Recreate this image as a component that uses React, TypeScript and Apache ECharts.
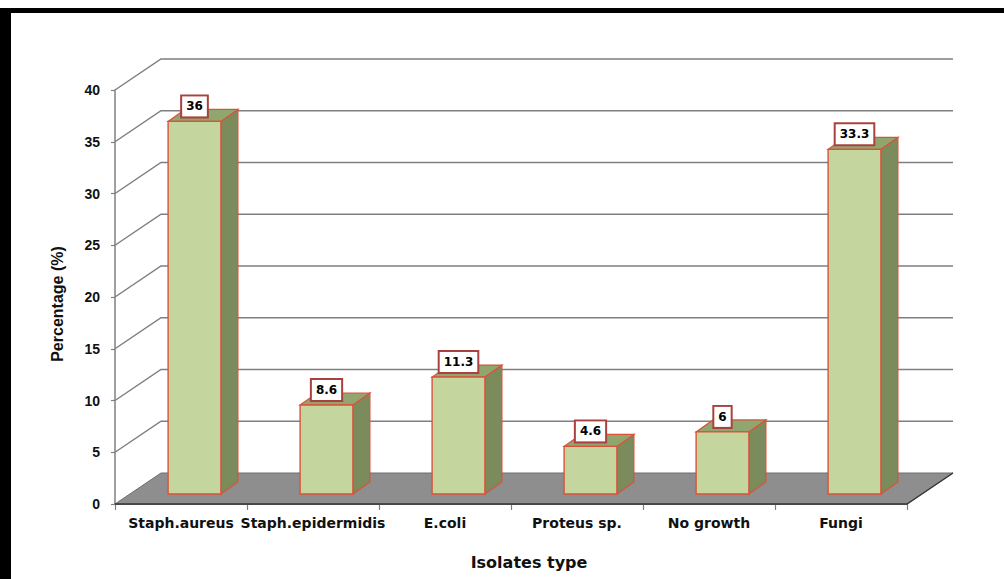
import React, { useEffect, useRef } from "react";
import * as echarts from "echarts";

const categories = ["Staph.aureus", "Staph.epidermidis", "E.coli", "Proteus sp.", "No growth", "Fungi"];
const percentages = [36, 8.6, 11.3, 4.6, 6, 33.3];
const gridTicks = [5, 10, 15, 20, 25, 30, 35, 40];
const yMin = 0;
const yMax = 40;
const yStep = 5;

// 3D look (pixels)
const WALL_DX = 46;
const WALL_DY = -31;
const BAR_OX = 13.5;
const BAR_OY = -10;
const BAR_DX = 17;
const BAR_DY = -12;
const BAR_W_FRAC = 0.4;

export default function App() {
  const ref = useRef<HTMLDivElement>(null);

  useEffect(() => {
    const chart = echarts.init(ref.current as HTMLDivElement, null, { renderer: "svg" });

    const option: any = {
      animation: false,
      backgroundColor: "#ffffff",
      grid: { left: 115, right: 97, top: 90, bottom: 75 },
      xAxis: {
        type: "category",
        data: categories,
        boundaryGap: true,
        axisLine: { show: true, lineStyle: { color: "#3a3a3a", width: 1.5 } },
        axisTick: { show: true, length: 6, lineStyle: { color: "#808080", width: 1.2 } },
        axisLabel: {
          interval: 0,
          margin: 12,
          color: "#111",
          fontFamily: "DejaVu Sans",
          fontWeight: "bold",
          fontSize: 14,
        },
        splitLine: { show: false },
        name: "Isolates type",
        nameLocation: "middle",
        nameGap: 50,
        nameTextStyle: {
          color: "#111",
          fontFamily: "DejaVu Sans",
          fontWeight: "bold",
          fontSize: 16,
          padding: [0, 0, 0, 36],
        },
      },
      yAxis: {
        type: "value",
        min: yMin,
        max: yMax,
        interval: yStep,
        axisLine: { show: true, lineStyle: { color: "#808080", width: 1.5 } },
        axisTick: { show: true, length: 4, lineStyle: { color: "#808080", width: 1.2 } },
        axisLabel: {
          margin: 15,
          color: "#111",
          fontFamily: "Liberation Sans",
          fontWeight: "bold",
          fontSize: 14,
        },
        splitLine: { show: false },
        name: "Percentage (%)",
        nameLocation: "middle",
        nameRotate: 90,
        nameGap: 50,
        nameTextStyle: {
          color: "#111",
          fontFamily: "Liberation Sans",
          fontWeight: "bold",
          fontSize: 16,
          padding: [0, 14, 0, 0],
        },
      },
      graphic: [
        { type: "rect", z: 100, shape: { x: 0, y: 8, width: 1004, height: 5 }, style: { fill: "#000" } },
        { type: "rect", z: 100, shape: { x: 0, y: 8, width: 11, height: 571 }, style: { fill: "#000" } },
      ],
      series: [
        {
          type: "custom",
          name: "walls",
          silent: true,
          z: 1,
          data: gridTicks.map((v) => [0, v]),
          renderItem: (params: any, api: any) => {
            const cs = params.coordSys;
            const y = api.coord([0, api.value(1)])[1];
            const x0 = cs.x;
            const x1 = cs.x + cs.width;
            return {
              type: "polyline",
              shape: {
                points: [
                  [x0, y],
                  [x0 + WALL_DX, y + WALL_DY],
                  [x1 + WALL_DX, y + WALL_DY],
                ],
              },
              style: { stroke: "#7f7f7f", lineWidth: 1.5, fill: null },
            };
          },
        },
        {
          type: "custom",
          name: "floor",
          silent: true,
          z: 2,
          data: [[0, yMin]],
          renderItem: (params: any, api: any) => {
            const cs = params.coordSys;
            const y = api.coord([0, api.value(1)])[1];
            const x0 = cs.x;
            const x1 = cs.x + cs.width;
            return {
              type: "group",
              children: [
                {
                  type: "polygon",
                  shape: {
                    points: [
                      [x0, y],
                      [x1, y],
                      [x1 + WALL_DX, y + WALL_DY],
                      [x0 + WALL_DX, y + WALL_DY],
                    ],
                  },
                  style: { fill: "#8e8e8e", stroke: "#6e6e6e", lineWidth: 1 },
                },
                {
                  type: "polyline",
                  shape: {
                    points: [
                      [x0, y],
                      [x1, y],
                      [x1 + WALL_DX, y + WALL_DY],
                    ],
                  },
                  style: { stroke: "#3a3a3a", lineWidth: 1.5, fill: null },
                },
              ],
            };
          },
        },
        {
          type: "custom",
          name: "Percentage",
          z: 3,
          data: percentages.map((v, i) => [i, v]),
          renderItem: (params: any, api: any) => {
            const i = api.value(0);
            const v = api.value(1);
            const base = api.coord([i, yMin]);
            const top = api.coord([i, v]);
            const cw = api.size([1, 0])[0];
            const w = cw * BAR_W_FRAC;
            const cx = base[0] + BAR_OX;
            const xl = cx - w / 2;
            const xr = cx + w / 2;
            const yb = base[1] + BAR_OY;
            const yt = top[1] + BAR_OY;
            const edge = "#d9533c";
            return {
              type: "group",
              children: [
                {
                  type: "polygon",
                  shape: {
                    points: [
                      [xr, yt],
                      [xr + BAR_DX, yt + BAR_DY],
                      [xr + BAR_DX, yb + BAR_DY],
                      [xr, yb],
                    ],
                  },
                  style: { fill: "#7b8b5c", stroke: edge, lineWidth: 1.2 },
                },
                {
                  type: "polygon",
                  shape: {
                    points: [
                      [xl, yt],
                      [xr, yt],
                      [xr + BAR_DX, yt + BAR_DY],
                      [xl + BAR_DX, yt + BAR_DY],
                    ],
                  },
                  style: { fill: "#91a56e", stroke: edge, lineWidth: 1.2 },
                },
                {
                  type: "rect",
                  shape: { x: xl, y: yt, width: w, height: yb - yt },
                  style: { fill: "#c4d69d", stroke: edge, lineWidth: 1.4 },
                },
                {
                  type: "text",
                  x: cx,
                  y: yt - 5,
                  style: {
                    text: String(v),
                    fill: "#000",
                    fontFamily: "DejaVu Sans",
                    fontWeight: "bold",
                    fontSize: 12,
                    align: "center",
                    verticalAlign: "bottom",
                    backgroundColor: "#ffffff",
                    borderColor: "#a9423f",
                    borderWidth: 2,
                    padding: [4, 4, 4, 4],
                  },
                },
              ],
            };
          },
        },
      ],
    };

    chart.setOption(option);
    return () => {
      chart.dispose();
    };
  }, []);

  return (
    <div
      ref={ref}
      style={{ position: "fixed", left: 0, top: 0, width: 1004, height: 579, background: "#fff" }}
    />
  );
}
